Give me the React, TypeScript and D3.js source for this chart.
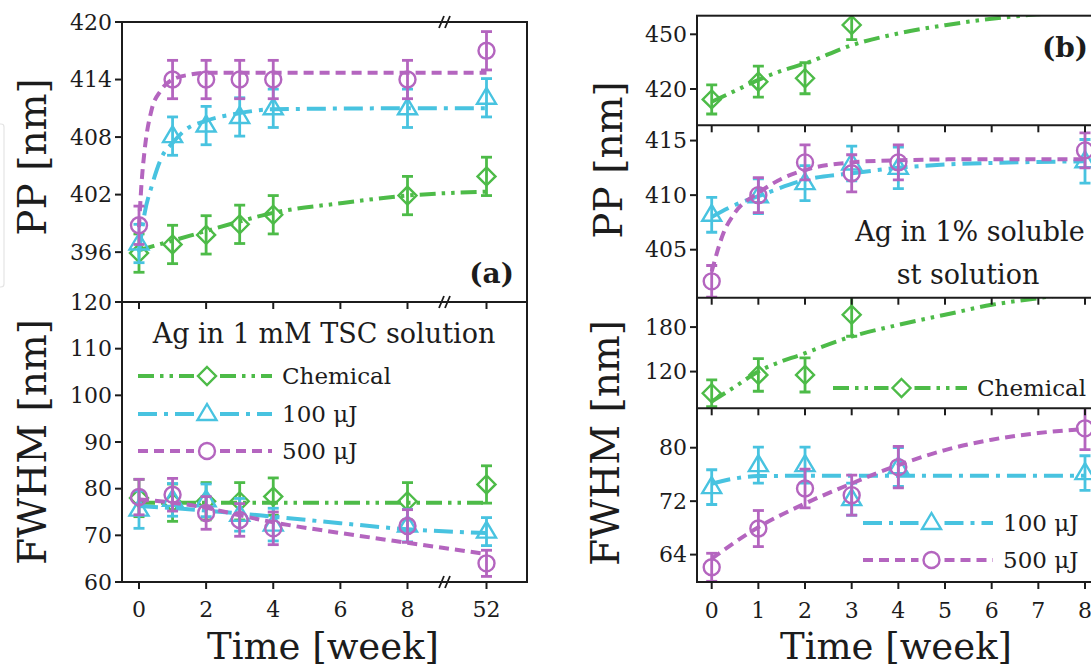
import React from "react";
import * as d3 from "d3";

const GREEN = "#4dbb48";
const CYAN = "#48c3e0";
const PURPLE = "#b465bf";
const INK = "#1c1c1c";
const FONT = "'DejaVu Serif', 'Liberation Serif', serif";

// ---------- panel (a): Ag in 1 mM TSC solution ----------
const weeksA = [0, 1, 2, 3, 4, 8, 52];
const xTicksA = [0, 2, 4, 6, 8, 52];

const ppChemA = [395.9, 396.8, 397.8, 398.9, 399.9, 401.9, 403.9];
const pp100A = [396.9, 408.1, 409.2, 410.1, 411.0, 411.0, 412.1];
const pp500A = [398.8, 414.0, 414.0, 414.0, 414.0, 414.0, 417.0];
const ppErrA = [2, 2, 2, 2, 2, 2, 2];

const ppChemFitWA = [0, 1, 2, 3, 4, 6, 8, 52];
const ppChemFitA = [396.2, 397.2, 398.2, 399.2, 400.1, 401.1, 401.9, 402.3];
const pp100FitWA = [0, 0.17, 0.38, 0.69, 1, 1.4, 2, 3, 4, 8, 52];
const pp100FitA = [396.0, 400.1, 402.9, 406.0, 407.4, 408.8, 409.7, 410.5, 410.9, 411.0, 411.0];
const pp500FitWA = [0, 0.07, 0.17, 0.38, 0.64, 1, 1.5, 2, 52];
const pp500FitA = [398.6, 402.9, 406.7, 410.9, 412.8, 414.0, 414.5, 414.7, 414.7];

const fwhmChemA = [78.0, 77.0, 77.3, 77.3, 78.3, 77.3, 80.9];
const fwhm100A = [75.5, 77.6, 77.5, 74.4, 72.3, 72.1, 70.8];
const fwhm500A = [78.2, 78.7, 74.8, 73.3, 71.5, 72.0, 64.0];
const fwhmChemErrA = [4, 4, 4, 4, 4, 4, 4];
const fwhm100ErrA = [4, 3.5, 3.5, 3.5, 3.5, 3.5, 3];
const fwhm500ErrA = [3.8, 3.5, 3.5, 3.5, 3.5, 3.5, 2.8];

const fwhmChemFitWA = [0, 52];
const fwhmChemFitA = [77, 77];
const fwhm100FitWA = [0, 2, 4, 6, 8, 52];
const fwhm100FitA = [76.3, 75.3, 74.0, 72.6, 71.3, 70.5];
const fwhm500FitWA = [0, 1, 2, 3, 4, 6, 8, 52];
const fwhm500FitA = [77.7, 77.0, 75.9, 74.3, 72.8, 70.5, 68.4, 66.0];

const ppTicksA = [396, 402, 408, 414, 420];
const fwhmTicksA = [60, 70, 80, 90, 100, 110, 120];

// ---------- panel (b): Ag in 1% soluble st solution ----------
const weeksB = [0, 1, 2, 3, 4, 8];
const xTicksB = [0, 1, 2, 3, 4, 5, 6, 7, 8];

const ppChemB = [414.3, 424.0, 425.9, 455.1];
const ppChemErrB = [8, 8.5, 8.5, 8];
const pp100B = [408.2, 409.9, 411.1, 412.9, 412.5, 413.1];
const pp100ErrB = [1.6, 1.6, 1.6, 1.6, 1.9, 2.0];
const pp500B = [402.1, 410.0, 413.0, 412.0, 413.0, 414.1];
const pp500ErrB = [1.45, 1.6, 1.6, 1.7, 1.6, 1.6];

const ppChemFitWB = [0, 0.5, 1, 1.5, 2, 3, 4, 5, 6, 7, 8];
const ppChemFitB = [413, 419, 425, 430, 434, 444, 450.5, 455, 458.5, 461, 463];
const pp100FitWB = [0, 0.5, 1, 2, 3, 4, 5, 6, 8];
const pp100FitB = [408.0, 409.1, 409.9, 411.4, 412.0, 412.5, 412.8, 412.95, 413.1];
const pp500FitWB = [0, 0.25, 0.5, 1, 1.5, 2, 3, 4, 6, 8];
const pp500FitB = [403.0, 406.5, 408.4, 410.2, 411.5, 412.3, 413.0, 413.2, 413.3, 413.3];

const fwhmChemB = [90.8, 115.5, 115.5, 196.6];
const fwhmChemErrB = [18, 22, 23, 29];
const fwhm100B = [74.1, 77.4, 77.4, 72.3, 77.1, 76.2];
const fwhm100ErrB = [2.6, 2.7, 2.7, 2.4, 2.9, 2.6];
const fwhm500B = [62.1, 67.9, 73.9, 72.9, 77.1, 82.9];
const fwhm500ErrB = [2.1, 2.7, 2.9, 3.0, 3.1, 3.2];

const fwhmChemFitWB = [0, 0.5, 1, 2, 3, 4, 5, 6, 7, 8];
const fwhmChemFitB = [79.5, 99.7, 120, 144.8, 167.3, 183, 196.6, 210, 219, 228];
const fwhm100FitWB = [0, 0.5, 1, 2, 4, 8];
const fwhm100FitB = [74.6, 75.4, 75.75, 75.8, 75.8, 75.8];
const fwhm500FitWB = [0, 1, 2, 3, 4, 5, 6, 7, 8];
const fwhm500FitB = [63.4, 68.1, 71.65, 74.65, 77.4, 79.65, 81.2, 82.2, 82.8];

const ppChemTicksB = [420, 450];
const ppLaserTicksB = [405, 410, 415];
const fwhmChemTicksB = [120, 180];
const fwhmLaserTicksB = [64, 72, 80];

const DASH = {
  chem: "16 6 3.5 6 3.5 6",
  j100: "19 7 4 7",
  j500: "10 6",
};

type Scale = d3.ScaleLinear<number, number>;

const Marker = ({ shape, cx, cy, color }: any) => {
  if (shape === "diamond")
    return (
      <path d={`M${cx},${cy - 9}L${cx + 9},${cy}L${cx},${cy + 9}L${cx - 9},${cy}Z`}
        fill="none" stroke={color} strokeWidth={2.4} />
    );
  if (shape === "triangle")
    return (
      <path d={`M${cx},${cy - 10}L${cx + 9.5},${cy + 6}L${cx - 9.5},${cy + 6}Z`}
        fill="none" stroke={color} strokeWidth={2.4} strokeLinejoin="miter" />
    );
  return <circle cx={cx} cy={cy} r={8} fill="none" stroke={color} strokeWidth={2.4} />;
};

const Series = ({ weeks, vals, errs, fitW, fitV, color, dash, shape, x, y }: any) => {
  const line = d3.line<number>()
    .x((_, i) => x(fitW[i]))
    .y((d) => y(d))
    .curve(d3.curveMonotoneX);
  return (
    <g>
      <path d={line(fitV) || ""} fill="none" stroke={color} strokeWidth={4} strokeDasharray={dash} />
      {vals.map((v: number, i: number) => {
        const cx = x(weeks[i]);
        const y1 = y(v - errs[i]);
        const y2 = y(v + errs[i]);
        return (
          <g key={i}>
            <g stroke={color} strokeWidth={2.8}>
              <line x1={cx} x2={cx} y1={y1} y2={y2} />
              <line x1={cx - 5.5} x2={cx + 5.5} y1={y1} y2={y1} />
              <line x1={cx - 5.5} x2={cx + 5.5} y1={y2} y2={y2} />
            </g>
            <Marker shape={shape} cx={cx} cy={y(v)} color={color} />
          </g>
        );
      })}
    </g>
  );
};

const YTicks = ({ ticks, y, x0 }: any) => (
  <g>
    {ticks.map((t: number) => (
      <g key={t}>
        <line x1={x0 - 7} x2={x0} y1={y(t)} y2={y(t)} stroke={INK} strokeWidth={2} />
        <text x={x0 - 10} y={y(t)} dy="0.35em" textAnchor="end" fontSize={22} fill={INK}>{t}</text>
      </g>
    ))}
  </g>
);

const XTicks = ({ ticks, x, yPos, dir }: any) => (
  <g>
    {ticks.map((t: number) => (
      <line key={t} x1={x(t)} x2={x(t)} y1={yPos} y2={yPos + 7 * dir} stroke={INK} strokeWidth={2} />
    ))}
  </g>
);

const BreakMark = ({ cx, cy }: any) => (
  <g stroke={INK} strokeWidth={1.8}>
    <line x1={cx - 6} y1={cy + 6} x2={cx - 1} y2={cy - 6} />
    <line x1={cx} y1={cy + 6} x2={cx + 5} y2={cy - 6} />
  </g>
);

const LegendRow = ({ x1, xm, x2, yc, color, dash, shape, label }: any) => (
  <g>
    <line x1={x1} x2={xm - 13} y1={yc} y2={yc} stroke={color} strokeWidth={4} strokeDasharray={dash} />
    <line x1={xm + 13} x2={x2} y1={yc} y2={yc} stroke={color} strokeWidth={4} strokeDasharray={dash} />
    <Marker shape={shape} cx={xm} cy={yc} color={color} />
    <text x={x2 + 10} y={yc} dy="0.35em" fontSize={23} fill={INK}>{label}</text>
  </g>
);

const App = () => {
  // ----- layout (a)
  const aL = 122, aR = 527;
  const aTop = 22, aMid = 302, aBot = 582;
  const xA: Scale = d3.scaleLinear().domain([0, 8, 52]).range([139, 407.5, 486.5]);
  const yPPA: Scale = d3.scaleLinear().domain([390.8, 420]).range([aMid, aTop]);
  const yFWA: Scale = d3.scaleLinear().domain([60, 120]).range([aBot, aMid]);
  const breakXA = 445;

  // ----- layout (b)
  const bL = 697, bR = 1102;
  const b0 = 15.7, b1 = 125.3, b2 = 297.7, b3 = 408.3, b4 = 582;
  const xB: Scale = d3.scaleLinear().domain([0, 8]).range([711.7, 1085]);
  const yPPChemB: Scale = d3.scaleLinear().domain([400.1, 460.2]).range([b1, b0]);
  const yPPLasB: Scale = d3.scaleLinear().domain([400.6, 416.4]).range([b2, b1]);
  const yFWChemB: Scale = d3.scaleLinear().domain([70.5, 219.6]).range([b3, b2]);
  const yFWLasB: Scale = d3.scaleLinear().domain([59.9, 85.9]).range([b4, b3]);

  return (
    <svg width={1091} height={667} style={{ position: "fixed", left: 0, top: 0, background: "#fff" }}
      fontFamily={FONT}>
      <defs>
        <clipPath id="cA1"><rect x={aL} y={aTop} width={aR - aL} height={aMid - aTop} /></clipPath>
        <clipPath id="cA2"><rect x={aL} y={aMid} width={aR - aL} height={aBot - aMid} /></clipPath>
        <clipPath id="cB1"><rect x={bL} y={b0} width={bR - bL} height={b1 - b0} /></clipPath>
        <clipPath id="cB2"><rect x={bL} y={b1} width={bR - bL} height={b2 - b1} /></clipPath>
        <clipPath id="cB3"><rect x={bL} y={b2} width={bR - bL} height={b3 - b2} /></clipPath>
        <clipPath id="cB4"><rect x={bL} y={b3} width={bR - bL} height={b4 - b3} /></clipPath>
      </defs>
      <rect width={1091} height={667} fill="#fff" />

      {/* faint frame remnant at left edge */}
      <path d="M-10,124 H1 Q4,124 4,127 V284 Q4,287 1,287 H-10" fill="none" stroke="#e4e4e4" strokeWidth={1.2} />

      {/* ===== panel (a) ===== */}
      <g clipPath="url(#cA1)">
        <Series weeks={weeksA} vals={ppChemA} errs={ppErrA} fitW={ppChemFitWA} fitV={ppChemFitA}
          color={GREEN} dash={DASH.chem} shape="diamond" x={xA} y={yPPA} />
        <Series weeks={weeksA} vals={pp100A} errs={ppErrA} fitW={pp100FitWA} fitV={pp100FitA}
          color={CYAN} dash={DASH.j100} shape="triangle" x={xA} y={yPPA} />
        <Series weeks={weeksA} vals={pp500A} errs={ppErrA} fitW={pp500FitWA} fitV={pp500FitA}
          color={PURPLE} dash={DASH.j500} shape="circle" x={xA} y={yPPA} />
      </g>
      <g clipPath="url(#cA2)">
        <Series weeks={weeksA} vals={fwhmChemA} errs={fwhmChemErrA} fitW={fwhmChemFitWA} fitV={fwhmChemFitA}
          color={GREEN} dash={DASH.chem} shape="diamond" x={xA} y={yFWA} />
        <Series weeks={weeksA} vals={fwhm100A} errs={fwhm100ErrA} fitW={fwhm100FitWA} fitV={fwhm100FitA}
          color={CYAN} dash={DASH.j100} shape="triangle" x={xA} y={yFWA} />
        <Series weeks={weeksA} vals={fwhm500A} errs={fwhm500ErrA} fitW={fwhm500FitWA} fitV={fwhm500FitA}
          color={PURPLE} dash={DASH.j500} shape="circle" x={xA} y={yFWA} />
      </g>

      <rect x={aL} y={aTop} width={aR - aL} height={aBot - aTop} fill="none" stroke={INK} strokeWidth={2} />
      <line x1={aL} x2={aR} y1={aMid} y2={aMid} stroke={INK} strokeWidth={2} />
      <XTicks ticks={xTicksA} x={xA} yPos={aMid} dir={1} />
      <XTicks ticks={xTicksA} x={xA} yPos={aBot} dir={1} />
      <BreakMark cx={breakXA} cy={aTop} />
      <BreakMark cx={breakXA} cy={aMid} />
      <BreakMark cx={breakXA} cy={aBot} />
      <YTicks ticks={ppTicksA} y={yPPA} x0={aL} />
      <YTicks ticks={fwhmTicksA} y={yFWA} x0={aL} />
      {xTicksA.map((t) => (
        <text key={t} x={xA(t)} y={617} textAnchor="middle" fontSize={22} fill={INK}>{t}</text>
      ))}
      <text x={514} y={283} textAnchor="end" fontSize={28} fontWeight="bold" fill={INK}>(a)</text>
      <text x={324} y={343} textAnchor="middle" fontSize={27} fill={INK}>Ag in 1 mM TSC solution</text>
      <LegendRow x1={138} xm={207} x2={272} yc={376} color={GREEN} dash={DASH.chem} shape="diamond" label="Chemical" />
      <LegendRow x1={138} xm={207} x2={272} yc={414} color={CYAN} dash={DASH.j100} shape="triangle" label="100 μJ" />
      <LegendRow x1={138} xm={207} x2={272} yc={451} color={PURPLE} dash={DASH.j500} shape="circle" label="500 μJ" />
      <text transform="translate(46,157) rotate(-90)" textAnchor="middle" fontSize={39} fill={INK}>PP [nm]</text>
      <text transform="translate(46,442) rotate(-90)" textAnchor="middle" fontSize={39} fill={INK}>FWHM [nm]</text>
      <text x={323} y={659} textAnchor="middle" fontSize={37} fill={INK}>Time [week]</text>

      {/* ===== panel (b) ===== */}
      <g clipPath="url(#cB1)">
        <Series weeks={weeksB} vals={ppChemB} errs={ppChemErrB} fitW={ppChemFitWB} fitV={ppChemFitB}
          color={GREEN} dash={DASH.chem} shape="diamond" x={xB} y={yPPChemB} />
      </g>
      <g clipPath="url(#cB2)">
        <Series weeks={weeksB} vals={pp100B} errs={pp100ErrB} fitW={pp100FitWB} fitV={pp100FitB}
          color={CYAN} dash={DASH.j100} shape="triangle" x={xB} y={yPPLasB} />
        <Series weeks={weeksB} vals={pp500B} errs={pp500ErrB} fitW={pp500FitWB} fitV={pp500FitB}
          color={PURPLE} dash={DASH.j500} shape="circle" x={xB} y={yPPLasB} />
      </g>
      <g clipPath="url(#cB3)">
        <Series weeks={weeksB} vals={fwhmChemB} errs={fwhmChemErrB} fitW={fwhmChemFitWB} fitV={fwhmChemFitB}
          color={GREEN} dash={DASH.chem} shape="diamond" x={xB} y={yFWChemB} />
      </g>
      <g clipPath="url(#cB4)">
        <Series weeks={weeksB} vals={fwhm100B} errs={fwhm100ErrB} fitW={fwhm100FitWB} fitV={fwhm100FitB}
          color={CYAN} dash={DASH.j100} shape="triangle" x={xB} y={yFWLasB} />
        <Series weeks={weeksB} vals={fwhm500B} errs={fwhm500ErrB} fitW={fwhm500FitWB} fitV={fwhm500FitB}
          color={PURPLE} dash={DASH.j500} shape="circle" x={xB} y={yFWLasB} />
      </g>

      <rect x={bL} y={b0} width={bR - bL} height={b4 - b0} fill="none" stroke={INK} strokeWidth={2} />
      {[b1, b2, b3].map((yy) => (
        <line key={yy} x1={bL} x2={bR} y1={yy} y2={yy} stroke={INK} strokeWidth={2} />
      ))}
      {[b1, b2, b3].map((yy) => (
        <XTicks key={yy} ticks={xTicksB} x={xB} yPos={yy} dir={1} />
      ))}
      <XTicks ticks={xTicksB} x={xB} yPos={b4} dir={1} />
      <YTicks ticks={ppChemTicksB} y={yPPChemB} x0={bL} />
      <YTicks ticks={ppLaserTicksB} y={yPPLasB} x0={bL} />
      <YTicks ticks={fwhmChemTicksB} y={yFWChemB} x0={bL} />
      <YTicks ticks={fwhmLaserTicksB} y={yFWLasB} x0={bL} />
      {xTicksB.map((t) => (
        <text key={t} x={xB(t)} y={618} textAnchor="middle" fontSize={22} fill={INK}>{t}</text>
      ))}
      <text x={1088} y={57} textAnchor="end" fontSize={28} fontWeight="bold" fill={INK}>(b)</text>
      <text x={970} y={241} textAnchor="middle" fontSize={27} fill={INK}>Ag in 1% soluble</text>
      <text x={968} y={284} textAnchor="middle" fontSize={27} fill={INK}>st solution</text>
      <LegendRow x1={833} xm={901.5} x2={967} yc={388} color={GREEN} dash={DASH.chem} shape="diamond" label="Chemical" />
      <LegendRow x1={863} xm={931.5} x2={993} yc={523} color={CYAN} dash={DASH.j100} shape="triangle" label="100 μJ" />
      <LegendRow x1={863} xm={931.5} x2={993} yc={560} color={PURPLE} dash={DASH.j500} shape="circle" label="500 μJ" />
      <text transform="translate(622,160) rotate(-90)" textAnchor="middle" fontSize={39} fill={INK}>PP [nm]</text>
      <text transform="translate(619,443) rotate(-90)" textAnchor="middle" fontSize={39} fill={INK}>FWHM [nm]</text>
      <text x={896} y={659} textAnchor="middle" fontSize={37} fill={INK}>Time [week]</text>
    </svg>
  );
};

export default App;
